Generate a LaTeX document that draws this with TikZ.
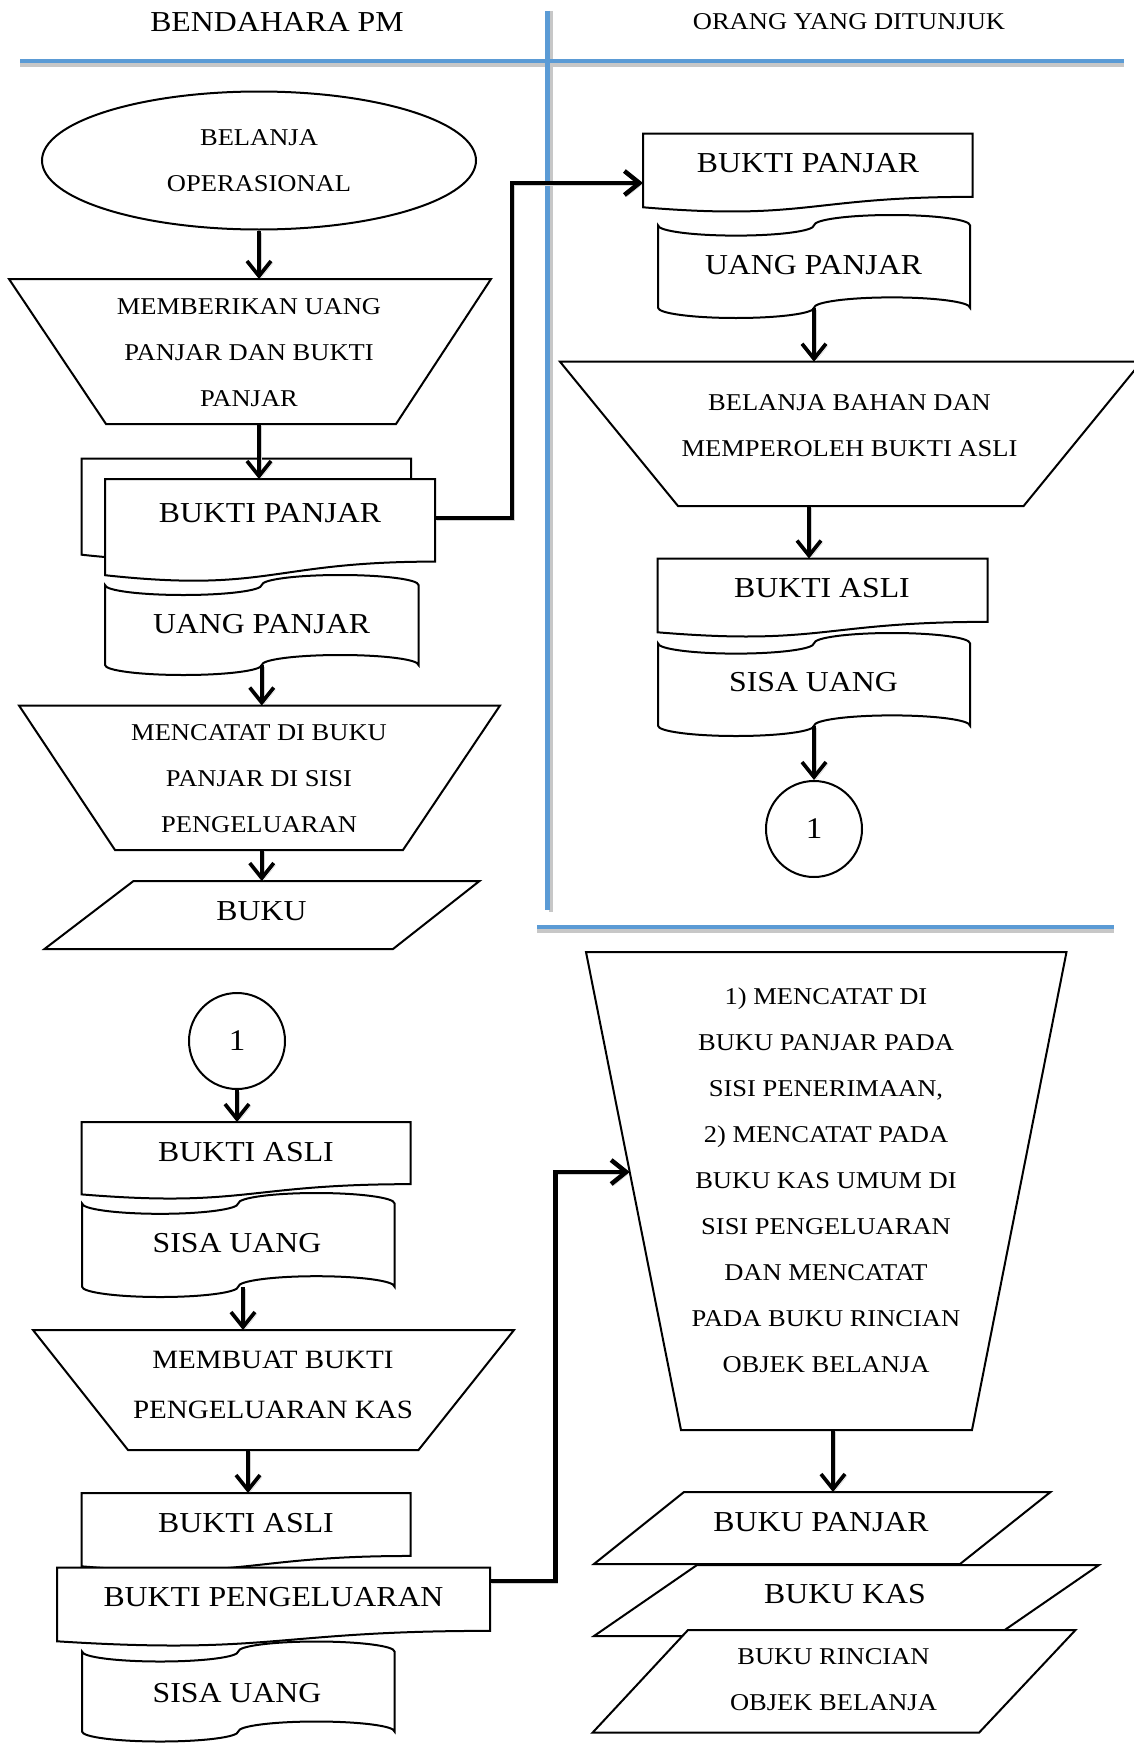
\documentclass[tikz,border=0pt]{standalone}
\usepackage{fontspec}
\setmainfont{Liberation Serif}[FakeStretch=1.1]
\usetikzlibrary{arrows.meta,shapes.geometric,calc}

\definecolor{laneblue}{HTML}{5B9BD5}
\newcommand\txtbig{\fontsize{28.9}{46}\selectfont}
\newcommand\txtmid{\fontsize{26.4}{50}\selectfont}
\newcommand\txtsmall{\fontsize{24.1}{46}\selectfont}
\newcommand\txtdigit{\fontsize{30}{36}\selectfont}

% document symbol: name, left x, top y, width, height (wavy lower edge)
\newcommand\docshape[5]{%
  \coordinate (#1-nw) at (#2,#3);
  \coordinate (#1-ne) at ({#2+#4},#3);
  \coordinate (#1-se) at ({#2+#4},{#3+0.802*#5});
  \coordinate (#1-sw) at (#2,{#3+0.934*#5});
  \draw[shapebox] (#1-nw) -- (#1-ne) -- (#1-se)
    .. controls ({#2+0.5*#4},{#3+0.802*#5}) and ({#2+0.5*#4},{#3+1.1075*#5}) .. (#1-sw) -- cycle;}

% punched tape symbol: name, left x, top y, width, height
\newcommand\tapeshape[5]{%
  \pgfmathsetmacro\tpx{#2}%
  \pgfmathsetmacro\tpq{#4/4}%
  \pgfmathsetmacro\tpv{#5/10}%
  \coordinate (#1-n) at ({\tpx+2*\tpq},{#3+\tpv});
  \coordinate (#1-s) at ({\tpx+2*\tpq},{#3+9*\tpv});
  \draw[shapebox] (\tpx,{#3+\tpv})
    .. controls (\tpx,{#3+\tpv+0.5523*\tpv}) and ({\tpx+\tpq-0.5523*\tpq},{#3+2*\tpv}) .. ({\tpx+\tpq},{#3+2*\tpv})
    .. controls ({\tpx+\tpq+0.5523*\tpq},{#3+2*\tpv}) and ({\tpx+2*\tpq},{#3+\tpv+0.5523*\tpv}) .. ({\tpx+2*\tpq},{#3+\tpv})
    .. controls ({\tpx+2*\tpq},{#3+\tpv-0.5523*\tpv}) and ({\tpx+3*\tpq-0.5523*\tpq},#3) .. ({\tpx+3*\tpq},#3)
    .. controls ({\tpx+3*\tpq+0.5523*\tpq},#3) and ({\tpx+4*\tpq},{#3+\tpv-0.5523*\tpv}) .. ({\tpx+4*\tpq},{#3+\tpv})
    -- ({\tpx+4*\tpq},{#3+9*\tpv})
    .. controls ({\tpx+4*\tpq},{#3+9*\tpv-0.5523*\tpv}) and ({\tpx+3*\tpq+0.5523*\tpq},{#3+8*\tpv}) .. ({\tpx+3*\tpq},{#3+8*\tpv})
    .. controls ({\tpx+3*\tpq-0.5523*\tpq},{#3+8*\tpv}) and ({\tpx+2*\tpq},{#3+9*\tpv-0.5523*\tpv}) .. ({\tpx+2*\tpq},{#3+9*\tpv})
    .. controls ({\tpx+2*\tpq},{#3+9*\tpv+0.5523*\tpv}) and ({\tpx+\tpq+0.5523*\tpq},{#3+10*\tpv}) .. ({\tpx+\tpq},{#3+10*\tpv})
    .. controls ({\tpx+\tpq-0.5523*\tpq},{#3+10*\tpv}) and (\tpx,{#3+9*\tpv+0.5523*\tpv}) .. (\tpx,{#3+9*\tpv})
    -- cycle;}

% four-cornered symbol (trapezium / parallelogram): name, tl, tr, br, bl
\newcommand\quadshape[9]{%
  \coordinate (#1-tl) at (#2,#3);
  \coordinate (#1-tr) at (#4,#5);
  \coordinate (#1-br) at (#6,#7);
  \coordinate (#1-bl) at (#8,#9);
  \draw[shapebox] (#1-tl) -- (#1-tr) -- (#1-br) -- (#1-bl) -- cycle;}

\begin{document}
\begin{tikzpicture}[x=1pt,y=-1pt,
  shapebox/.style={draw=black,line width=2pt,fill=white},
  lbltext/.style={inner sep=0pt,align=center},
  tbig/.style={lbltext,font=\txtbig},
  tmid/.style={lbltext,font=\txtmid},
  tsmall/.style={lbltext,font=\txtsmall},
  laneline/.style={laneblue,line width=4.5pt},
  laneshadow/.style={black!22,line width=4pt},
  flowtip/.style={-{Straight Barb[length=15pt,width=24pt]}},
  connshadow/.style={preaction={draw=black!18,transform canvas={shift={(2,2)}}}},
  flowarrow/.style={line width=3.7pt,flowtip,connshadow},
  elbowarrow/.style={line width=4.5pt,flowtip,connshadow}]

\useasboundingbox (0,0) rectangle (1134,1745);
\fill[white] (0,0) rectangle (1134,1745);
\clip (0,0) rectangle (1134,1745);

% swimlane separators
\draw[laneshadow] (20,65) -- (1124,65);
\draw[laneshadow] (550.5,11) -- (550.5,912);
\draw[laneshadow] (537,931) -- (1114,931);
\draw[laneline] (20,61) -- (1124,61);
\draw[laneline] (547.5,11) -- (547.5,910);
\draw[laneline] (537,927) -- (1114,927);

% lane headings
\node[tbig] (hleft) at (277,22) {BENDAHARA PM};
\node[tsmall] (hright) at (849,22) {ORANG YANG DITUNJUK};

% ---- left lane, upper part ----
\node[shapebox,ellipse,minimum width=434pt,minimum height=138pt,inner sep=0pt,
      align=center,font=\txtsmall] (start) at (259,160.5) {BELANJA\\OPERASIONAL};

\quadshape{t1}{9}{279}{491}{279}{396}{424}{106}{424}
\node[tsmall] (t1lbl) at (249,352.5) {MEMBERIKAN UANG\\PANJAR DAN BUKTI\\PANJAR};

\docshape{bpb}{81.5}{458.5}{329.5}{103}
\docshape{bp1}{105}{479}{330}{103}
\node[tbig] (bp1lbl) at (270,513) {BUKTI PANJAR};

\tapeshape{up1}{105}{575}{313.5}{100}
\node[tbig] (up1lbl) at (261.5,624) {UANG PANJAR};

\quadshape{t2}{19}{705.5}{500}{705.5}{403}{850}{115}{850}
\node[tsmall] (t2lbl) at (259,779) {MENCATAT DI BUKU\\PANJAR DI SISI\\PENGELUARAN};

\quadshape{bk}{133.5}{881}{479.5}{881}{393}{949}{44.5}{949}
\node[tbig] (bklbl) at (261.5,911) {BUKU};

% ---- right lane, upper part ----
\docshape{rbp}{643}{133.5}{329.5}{79}
\node[tbig] (rbplbl) at (808,163.5) {BUKTI PANJAR};

\tapeshape{ru}{658}{215}{312}{103}
\node[tbig] (rulbl) at (813.5,265) {UANG PANJAR};

\quadshape{t4}{560}{361.7}{1141.5}{361.7}{1023.6}{506}{678}{506}
\node[tsmall] (t4lbl) at (849.5,426) {BELANJA BAHAN DAN\\MEMPEROLEH BUKTI ASLI};

\docshape{ra}{657.5}{558.5}{330}{79}
\node[tbig] (ralbl) at (822,588.5) {BUKTI ASLI};

\tapeshape{rs}{658}{633}{312}{103}
\node[tbig] (rslbl) at (813.5,682) {SISA UANG};

\node[shapebox,circle,minimum size=96pt,inner sep=0pt,font=\txtdigit] (c1r) at (814,829) {1};

% ---- left lane, lower part ----
\node[shapebox,circle,minimum size=96pt,inner sep=0pt,font=\txtdigit] (c1l) at (237,1041) {1};

\docshape{ba1}{81.5}{1122}{329}{77.5}
\node[tbig] (ba1lbl) at (246,1152.5) {BUKTI ASLI};

\tapeshape{ls1}{82}{1193}{312.5}{104}
\node[tbig] (ls1lbl) at (237,1243) {SISA UANG};

\quadshape{t3}{33}{1330}{514}{1330}{418.5}{1450}{128}{1450}
\node[tmid] (t3lbl) at (273,1384.5) {MEMBUAT BUKTI\\PENGELUARAN KAS};

\docshape{ba2}{81.5}{1493}{329}{78.5}
\node[tbig] (ba2lbl) at (246,1523.5) {BUKTI ASLI};

\docshape{bpg}{57}{1567.5}{433}{79}
\node[tbig] (bpglbl) at (273.5,1597) {BUKTI PENGELUARAN};

\tapeshape{ls2}{82}{1641.5}{312.5}{100}
\node[tbig] (ls2lbl) at (237,1693) {SISA UANG};

% ---- right lane, lower part ----
\quadshape{t5}{586}{952}{1066.5}{952}{972}{1430}{681}{1430}
\node[tsmall] (t5lbl) at (826,1180.5) {1) MENCATAT DI\\BUKU PANJAR PADA\\SISI PENERIMAAN,\\2) MENCATAT PADA\\BUKU KAS UMUM DI\\SISI PENGELUARAN\\DAN MENCATAT\\PADA BUKU RINCIAN\\OBJEK BELANJA};

\quadshape{bks}{697}{1565}{1099}{1565}{996}{1636}{594}{1636}
\node[tbig] (bkslbl) at (845,1594.5) {BUKU KAS};

\quadshape{brc}{688}{1630}{1075.5}{1630}{979}{1732.7}{592.5}{1732.7}
\node[tsmall] (brclbl) at (833.5,1679.5) {BUKU RINCIAN\\OBJEK BELANJA};

\quadshape{bpj}{684}{1492}{1050.5}{1492}{960}{1564}{594}{1564}
\node[tbig] (bpjlbl) at (821,1522) {BUKU PANJAR};

% ---- connector ports ----
\coordinate (bp1-out) at (435,518);
\coordinate (rbp-in) at (643,183);
\coordinate (t4-out) at (809,506);
\coordinate (ls1-out) at (243,1287);
\coordinate (t3-out) at (248,1450);
\coordinate (bpg-out) at (490,1581);
\coordinate (t5-in) at ($(t5-tl)!0.4603!(t5-bl)$);
\coordinate (t5-out) at (833,1430);

% ---- connectors ----
\draw[flowarrow] (start.south) -- (start.south |- t1-tl);
\draw[flowarrow] (t1-bl -| start) -- (bp1-nw -| start);
\draw[flowarrow] (up1-s) -- (up1-s |- t2-tl);
\draw[flowarrow] (t2-bl -| up1-s) -- (bk-tl -| up1-s);
\draw[elbowarrow] (bp1-out) -- ++(77,0) |- (rbp-in);

\draw[flowarrow] (ru-s) -- (ru-s |- t4-tl);
\draw[flowarrow] (t4-out) -- (t4-out |- ra-nw);
\draw[flowarrow] (rs-s) -- (c1r.north);

\draw[flowarrow] (c1l.south) -- (c1l.south |- ba1-nw);
\draw[flowarrow] (ls1-out) -- (ls1-out |- t3-tl);
\draw[flowarrow] (t3-out) -- (t3-out |- ba2-nw);
\draw[elbowarrow] (bpg-out) -- ++(65.5,0) |- (t5-in);

\draw[flowarrow] (t5-out) -- (t5-out |- bpj-tl);
\end{tikzpicture}
\end{document}
